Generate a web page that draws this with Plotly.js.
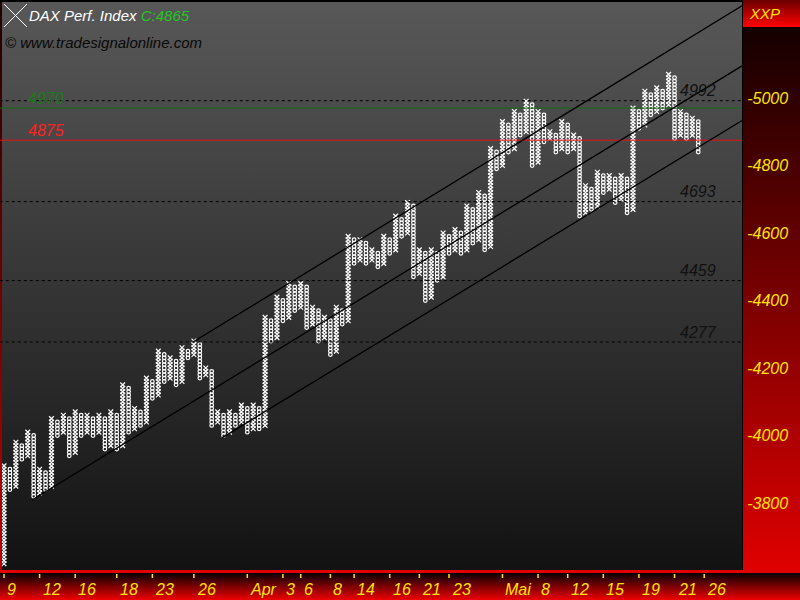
<!DOCTYPE html>
<html><head><meta charset="utf-8">
<script src="https://cdn.plot.ly/plotly-3.0.1.min.js"></script>
<style>
html,body{margin:0;padding:0;background:#000;}
#wrap{position:relative;width:800px;height:600px;overflow:hidden;background:#000;}
.bg{position:absolute;}
#chart{position:absolute;left:0;top:0;width:800px;height:600px;}
</style></head><body>
<div id="wrap">
 <div class="bg" style="left:0;top:2px;width:2px;height:568px;background:linear-gradient(#200000,#c00000)"></div>
 <div class="bg" style="left:2px;top:2px;width:740px;height:568px;background:linear-gradient(#585858,#121212)"></div>
 <div class="bg" style="left:743px;top:0;width:57px;height:27px;background:linear-gradient(#6a0000,#ff0000)"></div>
 <div class="bg" style="left:743px;top:27px;width:57px;height:545px;background:linear-gradient(#140000,#e00000)"></div>
 <div class="bg" style="left:0;top:570px;width:800px;height:3px;background:#e00000"></div>
 <div class="bg" style="left:0;top:573px;width:800px;height:27px;background:linear-gradient(#0a0000,#ee0000)"></div>
 <div id="chart"></div>
</div>
<script>
// ---- data ----
const BOX = 10;
const colType = "XO".repeat(59).split('');
const colTop = [3910,3900,3980,3970,4010,4000,3900,3890,4050,4040,
 4060,4050,4070,4060,4060,4050,4060,4050,4070,4060,
 4150,4140,4080,4070,4170,4160,4250,4240,4230,4220,
 4260,4250,4280,4270,4200,4190,4070,4060,4070,4060,
 4090,4080,4090,4080,4350,4340,4410,4400,4450,4440,
 4450,4440,4380,4370,4350,4340,4380,4370,4590,4580,
 4580,4570,4550,4540,4590,4580,4650,4640,4690,4680,
 4550,4540,4550,4540,4600,4590,4610,4600,4680,4670,
 4720,4710,4850,4840,4930,4920,4960,4950,4990,4980,
 4960,4950,4900,4890,4930,4920,4890,4880,4740,4730,
 4780,4770,4770,4760,4770,4760,4970,4960,5020,5010,
 5030,5020,5070,5060,4960,4950,4940,4930];
const colBottom = [3620,3840,3850,3930,3940,3820,3830,3840,3850,4000,
 4010,3940,3950,4000,4010,4000,4010,3960,3970,3960,
 3970,4010,4020,4030,4040,4110,4120,4160,4170,4150,
 4160,4230,4240,4170,4180,4030,4040,4000,4010,4030,
 4040,4010,4020,4020,4030,4280,4290,4340,4350,4370,
 4380,4320,4330,4280,4290,4240,4250,4330,4340,4510,
 4520,4510,4520,4500,4510,4540,4550,4590,4600,4470,
 4480,4400,4410,4460,4470,4540,4550,4540,4550,4570,
 4580,4550,4560,4790,4800,4840,4850,4890,4900,4800,
 4810,4870,4880,4840,4850,4840,4850,4650,4660,4670,
 4680,4720,4730,4690,4700,4660,4670,4910,4920,4950,
 4960,4970,4980,4880,4890,4880,4890,4840];
const tickCols = [1,7,13,20,26,33,42,48,51,56,60,66,71,76,85,91,96,102,108,114,119];
const tickLabels = ["9","12","16","18","23","26","Apr","3","6","8","14","16","21","23","Mai","8","12","15","19","21","26"];
const yTicks = [3800,4000,4200,4400,4600,4800,5000];
const dottedLevels = [4992,4693,4459,4277];
const greenLevel = 4970, redLevel = 4875;
const lastClose = 4865;
const trendStartCol = [32.85, 5.72, 37.74];
const trendStartPrice = [4277, 3809, 3993];
const trendEndCol = [125.37, 125.37, 125.37];
const trendEndPrice = [5273, 5095, 4933];

// ---- build boxes ----
const xs = {X:[],O:[]}, ys = {X:[],O:[]};
colType.forEach((t,i)=>{
  for(let p=colBottom[i]; p<=colTop[i]+0.1; p+=BOX){ xs[t].push(i+1); ys[t].push(p); }
});

const FONT = 'Liberation Sans, Arial, sans-serif';
const YEL = '#ffe400';
const px2x = px => (px-2)/740;
const py2y = py => (570-py)/568;

const shapes = [];
dottedLevels.forEach(v=>shapes.push({type:'line',xref:'paper',yref:'y',x0:-0.003,x1:1,y0:v,y1:v,
  line:{color:'#000',width:1,dash:'dot'}}));
shapes.push({type:'line',xref:'paper',yref:'y',x0:-0.003,x1:1,y0:greenLevel,y1:greenLevel,line:{color:'#146e14',width:1}});
shapes.push({type:'line',xref:'paper',yref:'y',x0:-0.003,x1:1,y0:redLevel,y1:redLevel,line:{color:'#e81010',width:1}});
trendStartCol.forEach((c,i)=>shapes.push({type:'line',xref:'x',yref:'y',x0:c,y0:trendStartPrice[i],
  x1:trendEndCol[i],y1:trendEndPrice[i],line:{color:'#000',width:1.3}}));
tickCols.forEach(c=>shapes.push({type:'line',xref:'x',yref:'paper',ysizemode:'pixel',yanchor:0,
  x0:c,x1:c,y0:-4,y1:-8,line:{color:YEL,width:1.5}}));
// icon
shapes.push({type:'line',xref:'paper',yref:'paper',x0:px2x(4),y0:py2y(4),x1:px2x(27),y1:py2y(27),line:{color:'#fff',width:1}});
shapes.push({type:'line',xref:'paper',yref:'paper',x0:px2x(4),y0:py2y(27),x1:px2x(27),y1:py2y(4),line:{color:'#fff',width:1}});

const annotations = [];
tickCols.forEach((c,i)=>annotations.push({xref:'x',yref:'paper',x:c,y:py2y(589),xanchor:'left',yanchor:'middle',
  xshift:1,showarrow:false,text:tickLabels[i],font:{family:FONT,size:16,color:YEL,style:'italic'}}));
dottedLevels.forEach(v=>annotations.push({xref:'paper',yref:'y',x:px2x(678),y:v,xanchor:'left',yanchor:'middle',
  yshift:10,showarrow:false,text:String(v),font:{family:FONT,size:16,color:'#111',style:'italic'}}));
annotations.push({xref:'paper',yref:'y',x:px2x(26),y:greenLevel,xanchor:'left',yanchor:'middle',yshift:10,showarrow:false,
  text:String(greenLevel),font:{family:FONT,size:16,color:'#1a7a1a',style:'italic'}});
annotations.push({xref:'paper',yref:'y',x:px2x(26),y:redLevel,xanchor:'left',yanchor:'middle',yshift:10,showarrow:false,
  text:String(redLevel),font:{family:FONT,size:16,color:'#ff2020',style:'italic'}});
annotations.push({xref:'paper',yref:'paper',x:px2x(3),y:py2y(42),xanchor:'left',yanchor:'middle',showarrow:false,
  text:'© www.tradesignalonline.com',font:{family:FONT,size:15,color:'#080808',style:'italic'}});
annotations.push({xref:'paper',yref:'paper',x:px2x(747),y:py2y(14),xanchor:'left',yanchor:'middle',showarrow:false,
  text:'XXP',font:{family:FONT,size:15,color:YEL,style:'italic'}});

const traces = [
  {type:'scatter',mode:'markers',x:xs.X,y:ys.X,hoverinfo:'skip',
   marker:{symbol:'x-thin-open',size:4.7,color:'#fff',line:{color:'#fff',width:1.2}}},
  {type:'scatter',mode:'markers',x:xs.O,y:ys.O,hoverinfo:'skip',
   marker:{symbol:'circle-open',size:3.6,color:'#fff',line:{color:'#fff',width:1.2}}}
];

const layout = {
  width:800,height:600,margin:{l:2,r:58,t:2,b:30,pad:0},
  paper_bgcolor:'rgba(0,0,0,0)',plot_bgcolor:'rgba(0,0,0,0)',showlegend:false,
  title:{text:'DAX Perf. Index <span style="color:#22c822">C:'+lastClose+'</span>',xref:'container',yref:'container',
    x:29/800,y:1-16/600,xanchor:'left',yanchor:'middle',font:{family:FONT,size:15,color:'#fff',style:'italic'}},
  xaxis:{range:[0.663,125.37],showgrid:false,zeroline:false,showticklabels:false,ticks:'',showline:false,fixedrange:true},
  yaxis:{range:[3601.5,5284.4],side:'right',showgrid:false,zeroline:false,showline:false,fixedrange:true,
    tickvals:yTicks,ticktext:yTicks.map(v=>'-'+v),ticks:'outside',ticklen:1,tickcolor:'rgba(0,0,0,0)',
    tickfont:{family:FONT,size:16,color:YEL,style:'italic'}},
  shapes:shapes,annotations:annotations
};
Plotly.newPlot('chart',traces,layout,{displayModeBar:false,staticPlot:true});
</script>
</body></html>
